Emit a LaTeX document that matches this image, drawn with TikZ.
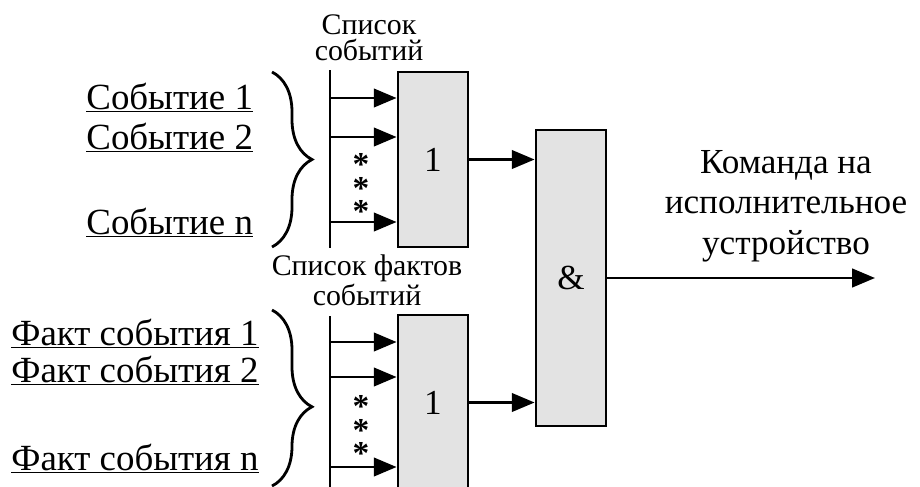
\documentclass[tikz,border=0pt]{standalone}
\usepackage{fontspec}
\setmainfont{Liberation Serif}
\usetikzlibrary{arrows.meta,positioning,decorations.pathreplacing}
\definecolor{blockgray}{HTML}{E3E3E3}

\begin{document}
\begin{tikzpicture}[x=0.02cm,y=-0.02cm,line width=1.6pt,
    every node/.style={font=\fontsize{20}{23}\selectfont},
    block/.style={draw,fill=blockgray,minimum width=1.4cm,inner sep=0pt},
    lbl/.style={anchor=base west,inner sep=0pt,font=\fontsize{21}{23}\selectfont},
    ttl/.style={align=center,anchor=south,inner sep=0pt,font=\fontsize{17}{14.5}\selectfont},
    stars/.style={align=center,inner sep=0pt,font=\fontsize{19}{11.4}\selectfont\bfseries},
    sig/.style={-{Triangle[length=13pt,width=10.5pt]}},
    br/.style={decorate,decoration={brace,amplitude=0.8cm}}]
  \useasboundingbox (0,0) rectangle (920,487);
  \clip (0,0) rectangle (920,487);

  % blocks
  \node[block,minimum height=3.5cm] (or1) at (433,159.5) {1};
  \node[block,minimum height=3.5cm] (or2) at (433,402.5) {1};
  \node[block,minimum height=5.92cm] (and) at (571,278) {\&};

  % input buses
  \coordinate (bus1t) at (330,70);
  \coordinate (bus1b) at (330,248);
  \coordinate (bus2t) at (330,316);
  \coordinate (bus2b) at (330,495);
  \draw (bus1t) -- (bus1b);
  \draw (bus2t) -- (bus2b);
  \foreach \i/\y in {1/98,2/137,3/222} {
    \coordinate (a\i) at (330,\y);
    \draw[sig] (a\i) -- (a\i -| or1.west);
  }
  \foreach \i/\y in {1/342,2/377,3/467} {
    \coordinate (b\i) at (330,\y);
    \draw[sig] (b\i) -- (b\i -| or2.west);
  }
  \node[stars] (st1) at (361,188) {*\\*\\*};
  \node[stars] (st2) at (361,430) {*\\*\\*};

  % titles
  \node[ttl] (ttl1) at (369,62) {Список\\событий};
  \node[ttl] (ttl2) at (367,307) {Список фактов\\событий};

  % braces
  \draw[br] (272,72) -- (272,247);
  \draw[br,decoration={aspect=0.55}] (272,310) -- (272,486);

  % event labels
  \node[lbl] (ev1) at (85,109) {\underline{Событие 1}};
  \node[lbl] (ev2) at (85,149) {\underline{Событие 2}};
  \node[lbl] (evn) at (85,234) {\underline{Событие n}};
  \node[lbl] (fc1) at (10,345) {\underline{Факт события 1}};
  \node[lbl] (fc2) at (10,382) {\underline{Факт события 2}};
  \node[lbl] (fcn) at (10,470) {\underline{Факт события n}};

  % outputs
  \draw[sig] (or1.east) -- (or1.east -| and.west);
  \draw[sig] (or2.east) -- (or2.east -| and.west);
  \coordinate (out) at (875,278);
  \draw[sig] (and.east) -- (out);
  \node[align=center] (cmd) at (786,206) {Команда на\\исполнительное\\устройство};
\end{tikzpicture}
\end{document}
